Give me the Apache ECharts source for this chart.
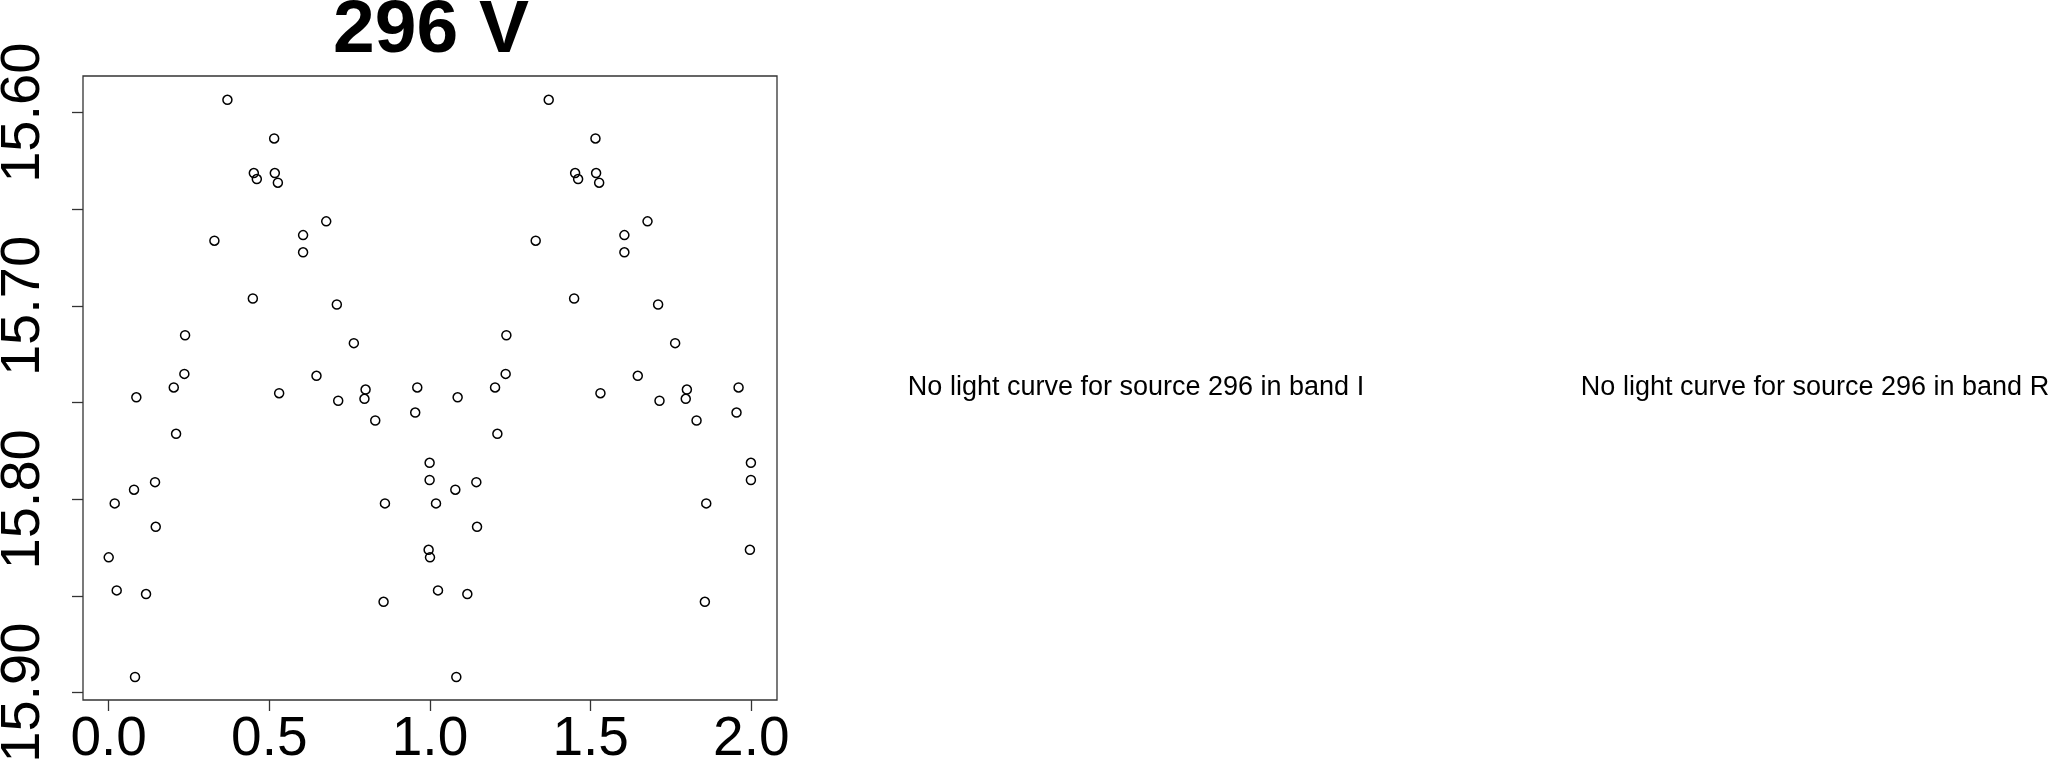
<!DOCTYPE html>
<html>
<head>
<meta charset="utf-8">
<script src="https://cdn.jsdelivr.net/npm/echarts@6/dist/echarts.min.js"></script>
<style>
html,body{margin:0;padding:0;background:#fff;}
#chart{width:2058px;height:762px;}
</style>
</head>
<body>
<div id="chart"></div>
<script>
// Phase-folded light curve, source 296, band V (first cycle, phase 0..1)
const phaseCycle1 = [0.3695,0.515,0.4517,0.461,0.517,0.5265,0.677,0.605,0.605,0.329,0.4486,0.710,0.2377,0.763,0.2355,0.6467,0.2025,0.7995,0.796,0.9604,0.086,0.5305,0.7143,0.8296,0.954,0.2097,0.9988,0.9988,0.1442,0.0788,0.0187,0.8598,0.1464,0.0,0.9957,0.0249,0.1162,0.8555,0.0819];
// same observations repeated in the second cycle (phase 1..2)
const phaseCycle2 = [1.3695,1.515,1.4517,1.461,1.517,1.5265,1.677,1.605,1.605,1.329,1.4486,1.710,1.2377,1.763,1.2355,1.6467,1.2025,1.7995,1.796,1.9604,1.086,1.5305,1.7143,1.8296,1.954,1.2097,1.9988,1.9988,1.1442,1.0788,1.0187,1.8598,1.1464,1.0,1.9957,1.0249,1.1162,1.8555,1.0819];
const magnitudes = [15.5933,15.6133,15.6312,15.6343,15.6312,15.6362,15.6562,15.6633,15.6722,15.6662,15.6961,15.6992,15.7151,15.7192,15.7351,15.7361,15.7421,15.7432,15.748,15.7421,15.7472,15.7451,15.749,15.7592,15.7551,15.7661,15.7811,15.790,15.7911,15.795,15.8021,15.8021,15.8142,15.830,15.8261,15.8471,15.849,15.853,15.8919];

const xTicks = [0, 0.5, 1.0, 1.5, 2.0];
const yTicks = [15.60, 15.65, 15.70, 15.75, 15.80, 15.85, 15.90];
const yLabels = [15.60, 15.70, 15.80, 15.90];

const titleText = '296 V';
const noCurveTexts = ['No light curve for source 296 in band I', 'No light curve for source 296 in band R'];

const pts = [];
for (let i = 0; i < phaseCycle1.length; i++) pts.push([phaseCycle1[i], magnitudes[i]]);
for (let i = 0; i < phaseCycle2.length; i++) pts.push([phaseCycle2[i], magnitudes[i]]);

const FONT = '"Liberation Sans", Arial, Helvetica, sans-serif';
const chart = echarts.init(document.getElementById('chart'), null, {renderer: 'canvas'});
chart.setOption({
  animation: false,
  backgroundColor: '#ffffff',
  grid: {
    left: 83, right: 1281, top: 76, bottom: 62,
    containLabel: false, outerBoundsMode: 'none',
    show: true, borderColor: '#333', borderWidth: 1.3, backgroundColor: 'transparent'
  },
  xAxis: {
    type: 'value', min: -0.08, max: 2.08,
    axisLine: {show: false, onZero: false},
    splitLine: {show: false},
    axisTick: {show: true, length: 11, customValues: xTicks, lineStyle: {color: '#333', width: 1.3}},
    axisLabel: {
      customValues: xTicks, margin: 12, color: '#000', hideOverlap: false,
      fontFamily: FONT, fontSize: 55,
      formatter: v => Number(v).toFixed(1)
    }
  },
  yAxis: {
    type: 'value', inverse: true, min: 15.581, max: 15.9038,
    axisLine: {show: false, onZero: false},
    splitLine: {show: false},
    axisTick: {show: true, length: 11, customValues: yTicks, lineStyle: {color: '#333', width: 1.3}},
    axisLabel: {
      customValues: yLabels, margin: 31, rotate: 90, color: '#000', hideOverlap: false,
      fontFamily: FONT, fontSize: 56,
      formatter: v => Number(v).toFixed(2)
    }
  },
  series: [{
    type: 'scatter',
    data: pts,
    symbol: 'circle',
    symbolSize: 9,
    itemStyle: {color: 'rgba(0,0,0,0)', borderColor: '#000', borderWidth: 1.5, opacity: 1},
    emphasis: {disabled: true}
  }],
  graphic: [
    {type: 'text', x: 431, y: 31, style: {text: titleText, font: 'bold 75px ' + FONT, fill: '#000', textAlign: 'center', textVerticalAlign: 'middle'}},
    {type: 'text', x: 1136, y: 388, style: {text: noCurveTexts[0], font: '27px ' + FONT, fill: '#000', textAlign: 'center', textVerticalAlign: 'middle'}},
    {type: 'text', x: 1815, y: 388, style: {text: noCurveTexts[1], font: '27px ' + FONT, fill: '#000', textAlign: 'center', textVerticalAlign: 'middle'}}
  ]
});
</script>
</body>
</html>
